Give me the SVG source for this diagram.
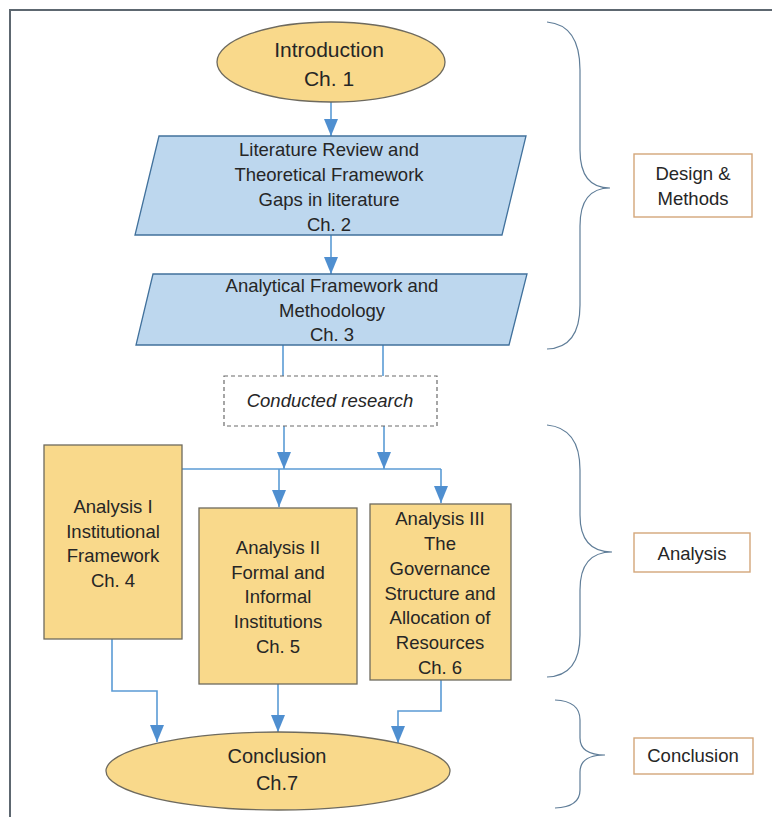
<svg xmlns="http://www.w3.org/2000/svg" width="772" height="817" viewBox="0 0 772 817">
  <style>
    text { font-family: "Liberation Sans", Arial, sans-serif; fill: #262626; text-anchor: middle; }
    .t18 { font-size: 18.5px; }
    .t21 { font-size: 21px; }
    .t20 { font-size: 20px; }
    .gold { fill: #f9d98b; stroke: #6e6a5e; stroke-width: 1.3; }
    .blue { fill: #bdd7ee; stroke: #41719c; stroke-width: 1.3; }
    .conn { fill: none; stroke: #5b9bd5; stroke-width: 1.6; }
    .brace { fill: none; stroke: #5f7d98; stroke-width: 1.2; }
    .label { fill: #ffffff; stroke: #d3a679; stroke-width: 1.4; }
  </style>
  <defs>
    <marker id="arrow" viewBox="0 0 17 14" markerWidth="17" markerHeight="14" refX="17" refY="7" orient="auto" markerUnits="userSpaceOnUse">
      <path d="M0,0 L17,7 L0,14 z" fill="#4f8fd0"/>
    </marker>
  </defs>

  <rect width="772" height="817" fill="#ffffff"/>
  <!-- outer frame -->
  <path d="M772,10 H10 V817" fill="none" stroke="#5d6770" stroke-width="2"/>

  <!-- connectors -->
  <g id="connectors">
    <path class="conn" d="M331,102 V136" marker-end="url(#arrow)"/>
    <path class="conn" d="M331,235 V274" marker-end="url(#arrow)"/>
    <path class="conn" d="M283,345 V376"/>
    <path class="conn" d="M383,345 V376"/>
    <path class="conn" d="M284,426 V469" marker-end="url(#arrow)"/>
    <path class="conn" d="M384,426 V469" marker-end="url(#arrow)"/>
    <path class="conn" d="M182,469 H441"/>
    <path class="conn" d="M279,469 V507" marker-end="url(#arrow)"/>
    <path class="conn" d="M441,469 V503" marker-end="url(#arrow)"/>
    <path class="conn" d="M112,639 V691 H157 V742" marker-end="url(#arrow)"/>
    <path class="conn" d="M278,684 V732" marker-end="url(#arrow)"/>
    <path class="conn" d="M441,680 V711 H398 V743" marker-end="url(#arrow)"/>
  </g>

  <g id="introduction">
    <ellipse class="gold" cx="331" cy="62" rx="114" ry="40"/>
    <text class="t21" x="329" y="57">Introduction</text>
    <text class="t21" x="329" y="86">Ch. 1</text>
  </g>

  <g id="literature-review">
    <polygon class="blue" points="159,136 526,136 502,235 135,235"/>
    <text class="t18" x="329" y="156">Literature Review and</text>
    <text class="t18" x="329" y="181">Theoretical Framework</text>
    <text class="t18" x="329" y="206">Gaps in literature</text>
    <text class="t18" x="329" y="231">Ch. 2</text>
  </g>

  <g id="analytical-framework">
    <polygon class="blue" points="153,274 527,274 509,345 136,345"/>
    <text class="t18" x="332" y="292">Analytical Framework and</text>
    <text class="t18" x="332" y="317">Methodology</text>
    <text class="t18" x="332" y="341">Ch. 3</text>
  </g>

  <g id="conducted-research">
    <rect x="224" y="376" width="213" height="50" fill="#ffffff" stroke="#6b6b6b" stroke-width="1.2" stroke-dasharray="4 3"/>
    <text class="t18" x="330" y="407" font-style="italic">Conducted research</text>
  </g>

  <g id="analysis-1">
    <rect class="gold" x="44" y="445" width="138" height="194"/>
    <text class="t18" x="113" y="513">Analysis I</text>
    <text class="t18" x="113" y="537.5">Institutional</text>
    <text class="t18" x="113" y="562">Framework</text>
    <text class="t18" x="113" y="586.5">Ch. 4</text>
  </g>

  <g id="analysis-2">
    <rect class="gold" x="199" y="508" width="158" height="176"/>
    <text class="t18" x="278" y="554">Analysis II</text>
    <text class="t18" x="278" y="579">Formal and</text>
    <text class="t18" x="278" y="603">Informal</text>
    <text class="t18" x="278" y="628">Institutions</text>
    <text class="t18" x="278" y="653">Ch. 5</text>
  </g>

  <g id="analysis-3">
    <rect class="gold" x="370" y="504" width="141" height="176"/>
    <text class="t18" x="440" y="525">Analysis III</text>
    <text class="t18" x="440" y="550">The</text>
    <text class="t18" x="440" y="574.5">Governance</text>
    <text class="t18" x="440" y="599.5">Structure and</text>
    <text class="t18" x="440" y="624">Allocation of</text>
    <text class="t18" x="440" y="649">Resources</text>
    <text class="t18" x="440" y="674">Ch. 6</text>
  </g>

  <g id="conclusion">
    <ellipse class="gold" cx="278" cy="771" rx="172" ry="39"/>
    <text class="t20" x="277" y="763">Conclusion</text>
    <text class="t20" x="277" y="790">Ch.7</text>
  </g>

  <!-- section braces and their labels -->
  <g id="design-methods">
    <path class="brace" d="M547,22 Q580,25 580,70 V150 Q580,188 610,188 Q580,188 580,226 V305 Q580,348 547,349"/>
    <rect class="label" x="634" y="154" width="118" height="63"/>
    <text class="t18" x="693" y="179.5">Design &amp;</text>
    <text class="t18" x="693" y="204.5">Methods</text>
  </g>

  <g id="analysis-section">
    <path class="brace" d="M547,425 Q580,428 580,470 V515 Q580,552 612,552 Q580,552 580,590 V635 Q580,676 547,677"/>
    <rect class="label" x="634" y="533" width="116" height="39"/>
    <text class="t18" x="692" y="559.5">Analysis</text>
  </g>

  <g id="conclusion-section">
    <path class="brace" d="M555,700 Q580,701 580,720 V738 Q580,755 605,755 Q580,755 580,772 V790 Q580,807 555,808"/>
    <rect class="label" x="634" y="738" width="119" height="36"/>
    <text class="t18" x="693" y="762">Conclusion</text>
  </g>
</svg>
